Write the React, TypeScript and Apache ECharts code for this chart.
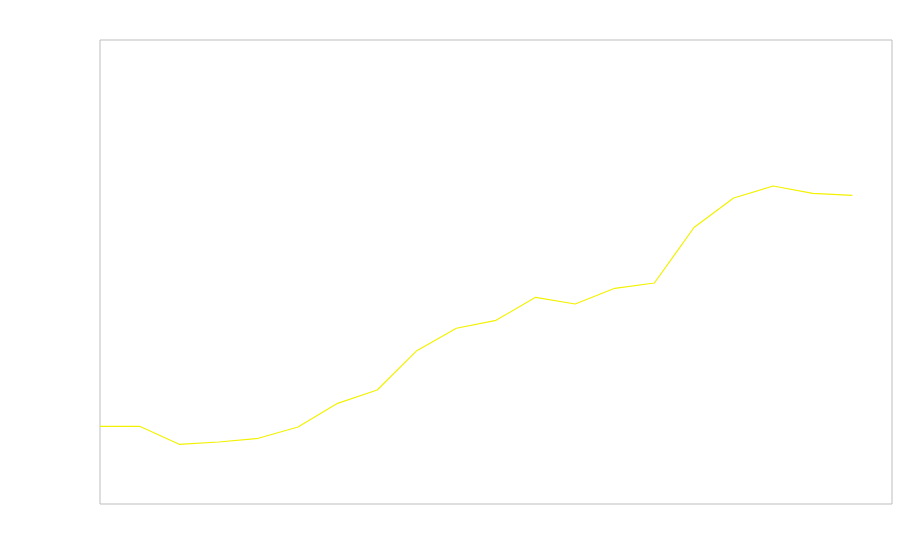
import React, { useEffect, useRef } from "react";
import * as echarts from "echarts";

const categories: string[] = [
  "1", "2", "3", "4", "5", "6", "7", "8", "9", "10",
  "11", "12", "13", "14", "15", "16", "17", "18", "19", "20", "21",
];
const seriesValues: (number | null)[] = [
  16.75, 16.75, 12.87, 13.36, 14.16, 16.6, 21.7, 24.57, 33.04, 37.87,
  39.59, 44.55, 43.1, 46.49, 47.63, 59.59, 65.95, 68.53, 66.96, 66.53, null,
];

export default function App() {
  const ref = useRef<HTMLDivElement>(null);
  useEffect(() => {
    if (!ref.current) return;
    const chart = echarts.init(ref.current, null, { renderer: "svg" });
    chart.setOption({
      animation: false,
      backgroundColor: "#ffffff",
      grid: {
        show: true,
        left: 100,
        top: 40,
        right: 8,
        bottom: 56,
        borderColor: "#bdbdbd",
        borderWidth: 1,
        backgroundColor: "transparent",
      },
      xAxis: {
        type: "category",
        data: categories,
        boundaryGap: false,
        axisLine: { show: false },
        axisTick: { show: false },
        axisLabel: { show: false },
        splitLine: { show: false },
      },
      yAxis: {
        type: "value",
        min: 0,
        max: 100,
        axisLine: { show: false },
        axisTick: { show: false },
        axisLabel: { show: false },
        splitLine: { show: false },
      },
      series: [
        {
          type: "line",
          data: seriesValues,
          showSymbol: false,
          symbol: "none",
          lineStyle: { color: "#f2f200", width: 1.2 },
          itemStyle: { color: "#f2f200" },
        },
      ],
    });
    return () => chart.dispose();
  }, []);
  return (
    <div
      ref={ref}
      style={{ position: "absolute", left: 0, top: 0, width: 900, height: 560 }}
    />
  );
}
